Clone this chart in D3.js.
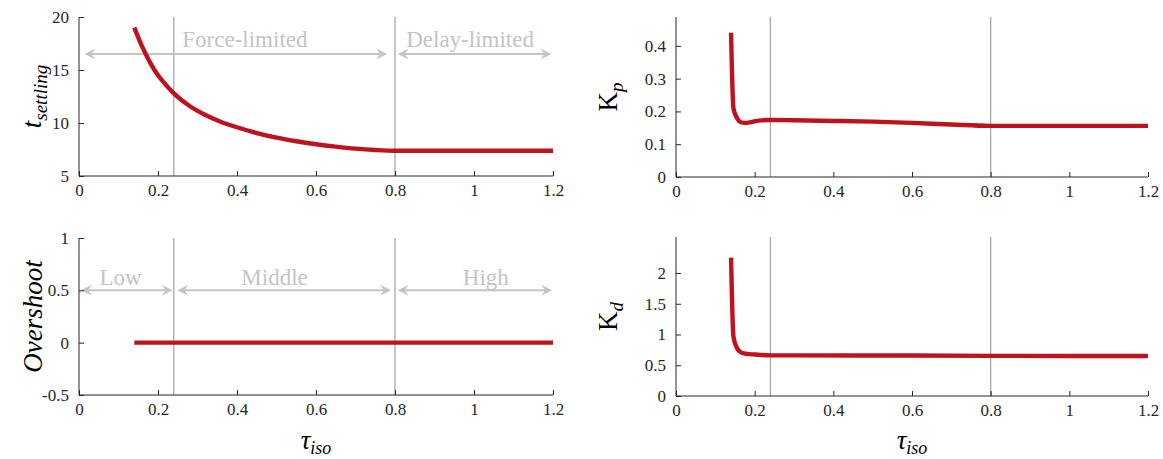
<!DOCTYPE html>
<html lang="en">
<head>
<meta charset="UTF-8">
<title>Settling time, overshoot and gains vs tau_iso</title>
<script src="https://d3js.org/d3.v7.min.js"></script>
<style>
  body { margin: 0; background: #fff; }
  svg { display: block; }
  text { font-family: "Liberation Serif", "DejaVu Serif", serif; }
  .tick text { fill: #262626; font-size: 17px; }
  .axis path, .axis line { stroke: #262626; }
</style>
</head>
<body>
<svg width="1163" height="459"></svg>
<script>
// data
const tauSettling = [0.14, 0.16, 0.18, 0.2, 0.22, 0.24, 0.28, 0.32, 0.36, 0.4, 0.45, 0.5, 0.55, 0.6, 0.65, 0.7, 0.75, 0.8, 0.9, 1.0, 1.1, 1.2];
const tSettling   = [19.0, 17.2, 15.7, 14.5, 13.6, 12.8, 11.6, 10.75, 10.1, 9.6, 9.05, 8.62, 8.28, 8.0, 7.77, 7.58, 7.45, 7.38, 7.38, 7.38, 7.38, 7.38];

const tauOvershoot = [0.14, 0.24, 0.8, 1.2];
const overshoot    = [0, 0, 0, 0];

const tauKp = [0.14, 0.146, 0.155, 0.165, 0.175, 0.19, 0.21, 0.24, 0.3, 0.4, 0.5, 0.6, 0.7, 0.8, 0.9, 1.0, 1.2];
const kp    = [0.44, 0.21, 0.18, 0.167, 0.165, 0.167, 0.172, 0.174, 0.173, 0.171, 0.169, 0.165, 0.16, 0.156, 0.156, 0.156, 0.156];

const tauKd = [0.14, 0.146, 0.155, 0.165, 0.18, 0.2, 0.24, 0.3, 0.6, 0.8, 1.2];
const kd    = [2.25, 0.97, 0.78, 0.71, 0.685, 0.675, 0.66, 0.66, 0.658, 0.653, 0.65];

const xTicks = [0, 0.2, 0.4, 0.6, 0.8, 1, 1.2];
const boundaries = [0.24, 0.8];

const topRegions    = ["Force-limited", "Delay-limited"];
const topRegionMid  = [0.42, 0.99];
const topArrows     = [[0.014, 0.78], [0.807, 1.196]];
const lowRegions    = ["Low", "Middle", "High"];
const lowRegionMid  = [0.105, 0.495, 1.03];
const lowArrows     = [[0.005, 0.237], [0.249, 0.79], [0.807, 1.198]];

const svg = d3.select("svg");
const red = "#bf121e", grey = "#a8a8a8", light = "#c4c4c4";
const serif = "Liberation Serif";

const panels = [
  { x0: 79, x1: 553, y0: 17, y1: 176, yDomain: [5, 20], yTicks: [5, 10, 15, 20],
    tau: tauSettling, val: tSettling, label: ["t", "settling"], labelX: 41, italic: true,
    regions: topRegions, mids: topRegionMid, arrows: topArrows, arrowY: 16.5, textY: 17.15 },
  { x0: 676, x1: 1148, y0: 17, y1: 177, yDomain: [0, 0.488], yTicks: [0, 0.1, 0.2, 0.3, 0.4],
    tau: tauKp, val: kp, label: ["K", "p"], labelX: 617, italic: false },
  { x0: 79, x1: 553, y0: 238, y1: 395, yDomain: [-0.5, 1], yTicks: [-0.5, 0, 0.5, 1],
    tau: tauOvershoot, val: overshoot, label: ["Overshoot", ""], labelX: 42, italic: true, xlabel: true,
    regions: lowRegions, mids: lowRegionMid, arrows: lowArrows, arrowY: 0.5, textY: 0.555 },
  { x0: 676, x1: 1148, y0: 237, y1: 396, yDomain: [0, 2.585], yTicks: [0, 0.5, 1, 1.5, 2],
    tau: tauKd, val: kd, label: ["K", "d"], labelX: 617, italic: false, xlabel: true }
];

function arrowHead(g, x, y, dir) {
  // notched arrow head, tip at (x,y), dir = -1 points left, 1 points right
  const L = 11, W = 5.5, N = 7;
  g.append("path")
    .attr("d", `M${x},${y} L${x - dir * L},${y - W} L${x - dir * N},${y} L${x - dir * L},${y + W} Z`)
    .attr("fill", light);
}

panels.forEach(p => {
  const x = d3.scaleLinear().domain([0, 1.2]).range([p.x0, p.x1]);
  const y = d3.scaleLinear().domain(p.yDomain).range([p.y1, p.y0]);
  const g = svg.append("g");

  // region boundaries
  g.selectAll(".bound").data(boundaries).join("line")
    .attr("x1", d => x(d)).attr("x2", d => x(d))
    .attr("y1", p.y0).attr("y2", p.y1)
    .attr("stroke", grey).attr("stroke-width", 1.3);

  // region arrows + labels
  if (p.regions) {
    p.arrows.forEach(a => {
      const ya = y(p.arrowY);
      g.append("line")
        .attr("x1", x(a[0]) + 6).attr("x2", x(a[1]) - 6)
        .attr("y1", ya).attr("y2", ya)
        .attr("stroke", light).attr("stroke-width", 2);
      arrowHead(g, x(a[0]), ya, -1);
      arrowHead(g, x(a[1]), ya, 1);
    });
    g.selectAll(".reg").data(p.regions).join("text")
      .attr("x", (d, i) => x(p.mids[i]))
      .attr("y", y(p.textY))
      .attr("text-anchor", "middle")
      .attr("fill", light)
      .attr("font-family", serif)
      .attr("font-size", 23)
      .text(d => d);
  }

  // axes
  g.append("g").attr("class", "axis")
    .attr("transform", `translate(0,${p.y1})`)
    .call(d3.axisBottom(x).tickValues(xTicks).tickSizeInner(-5).tickSizeOuter(0)
      .tickPadding(8).tickFormat(d => String(d)))
    .call(a => a.select(".domain").attr("d", `M${p.x0},0H${p.x1}`))
    .attr("font-family", serif);
  g.append("g").attr("class", "axis")
    .attr("transform", `translate(${p.x0},0)`)
    .call(d3.axisLeft(y).tickValues(p.yTicks).tickSizeInner(-5).tickSizeOuter(0)
      .tickPadding(10).tickFormat(d => String(d)))
    .call(a => a.select(".domain").attr("d", `M0,${p.y1}V${p.y0}`))
    .attr("font-family", serif);

  // curve
  const line = d3.line()
    .x((d, i) => x(p.tau[i]))
    .y(d => y(d))
    .curve(d3.curveMonotoneX);
  g.append("path")
    .datum(p.val)
    .attr("d", line)
    .attr("fill", "none")
    .attr("stroke", red)
    .attr("stroke-width", 4.4)
    .attr("stroke-linejoin", "round");

  // y label
  const cy = (p.y0 + p.y1) / 2;
  const yl = g.append("text")
    .attr("transform", `translate(${p.labelX},${cy}) rotate(-90)`)
    .attr("text-anchor", "middle")
    .attr("fill", "#000")
    .attr("font-family", serif)
    .attr("font-size", 27)
    .attr("font-style", p.italic ? "italic" : "normal");
  yl.append("tspan").text(p.label[0]);
  if (p.label[1]) {
    yl.append("tspan").attr("dy", 6).attr("font-size", 19).attr("font-style", "italic").text(p.label[1]);
  }

  // x label
  if (p.xlabel) {
    const xl = g.append("text")
      .attr("x", (p.x0 + p.x1) / 2)
      .attr("y", 449)
      .attr("text-anchor", "middle")
      .attr("font-family", serif)
      .attr("font-style", "italic")
      .attr("font-size", 27);
    xl.append("tspan").text("τ");
    xl.append("tspan").attr("dy", 5).attr("font-size", 18).text("iso");
  }
});
</script>
</body>
</html>
